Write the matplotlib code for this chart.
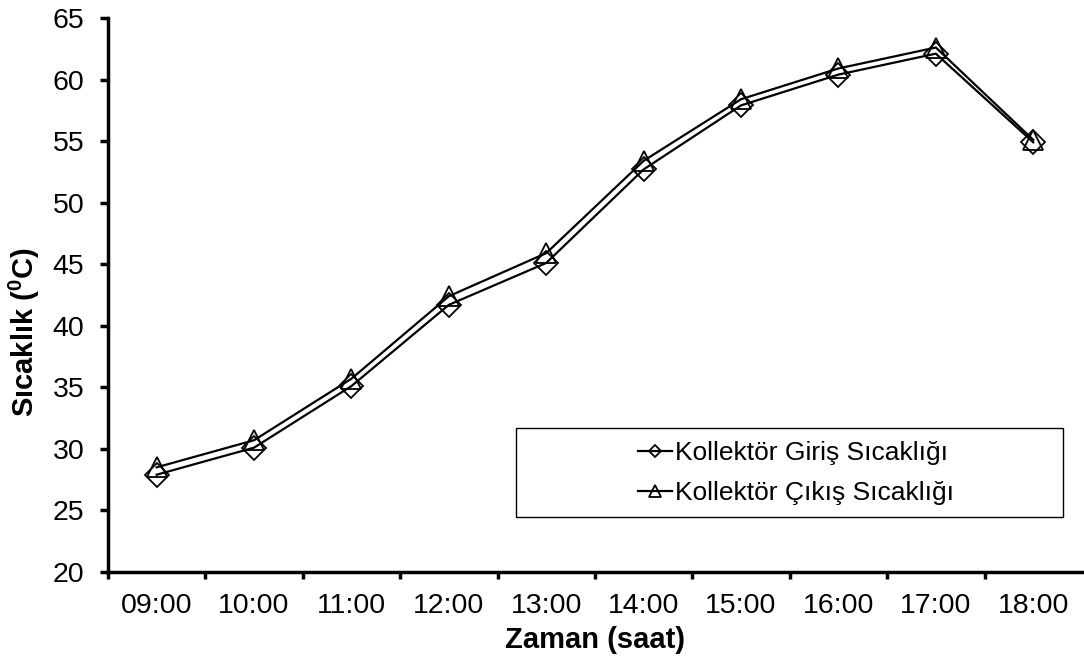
import numpy as np
import matplotlib
matplotlib.use('Agg')
import matplotlib.pyplot as plt
from matplotlib.patches import Rectangle

plt.rcParams['font.family'] = ['Liberation Sans', 'DejaVu Sans']
plt.rcParams['mathtext.fontset'] = 'custom'
plt.rcParams['mathtext.rm'] = 'Liberation Sans'
plt.rcParams['mathtext.bf'] = 'Liberation Sans:bold'

saatler = ['09:00', '10:00', '11:00', '12:00', '13:00', '14:00', '15:00', '16:00', '17:00', '18:00']
giris = [27.9, 30.1, 35.1, 41.7, 45.1, 52.7, 57.9, 60.4, 62.1, 54.9]
cikis = [28.5, 30.7, 35.7, 42.4, 45.9, 53.4, 58.4, 60.9, 62.6, 55.1]

fig = plt.figure(figsize=(10.84, 6.63), dpi=100)
ax = fig.add_axes([0.0996, 0.1373, 0.8985, 0.8356])

x = np.arange(len(saatler))
ax.plot(x, giris, color='black', lw=1.6, marker='D', markersize=12,
        markerfacecolor='none', markeredgecolor='black', markeredgewidth=1.3,
        label='Kollektör Giriş Sıcaklığı')
ax.plot(x, cikis, color='black', lw=1.6, marker='^', markersize=15,
        markerfacecolor='none', markeredgecolor='black', markeredgewidth=1.3,
        label='Kollektör Çıkış Sıcaklığı')

ax.set_xlim(-0.5, len(saatler) - 0.5)
ax.set_ylim(20, 65)
ax.set_yticks(np.arange(20, 66, 5))
ax.set_xticks(x)
ax.set_xticklabels(saatler)
ax.set_xticks(np.arange(-0.5, len(saatler) - 1, 1), minor=True)
ax.tick_params(axis='x', which='major', length=0, pad=15, labelsize=20.5)
ax.tick_params(axis='x', which='minor', length=5, width=2.5, direction='out')
ax.tick_params(axis='y', length=6, width=2.5, direction='out', labelsize=20.5, pad=11)

for s in ['top', 'right']:
    ax.spines[s].set_visible(False)
for s in ['left', 'bottom']:
    ax.spines[s].set_linewidth(2.5)

ax.set_ylabel(r'Sıcaklık ($\mathbf{^0}$C)', fontsize=21, fontweight='bold')
ax.yaxis.set_label_coords(-0.068, 0.433)
ax.set_xlabel('Zaman (saat)', fontsize=21, fontweight='bold', labelpad=5)

# legend frame (fixed box) and centered entries
ax.add_patch(Rectangle((0.419, 0.099), 0.562, 0.161, transform=ax.transAxes,
                       fill=False, edgecolor='black', lw=1.0, clip_on=False, zorder=4))
leg = ax.legend(loc='center', bbox_to_anchor=(0.706, 0.178), fontsize=19,
                frameon=False, handlelength=1.3, handletextpad=0.1,
                labelspacing=0.6, markerscale=0.55, borderaxespad=0)

fig.savefig('out.png', dpi=100)
